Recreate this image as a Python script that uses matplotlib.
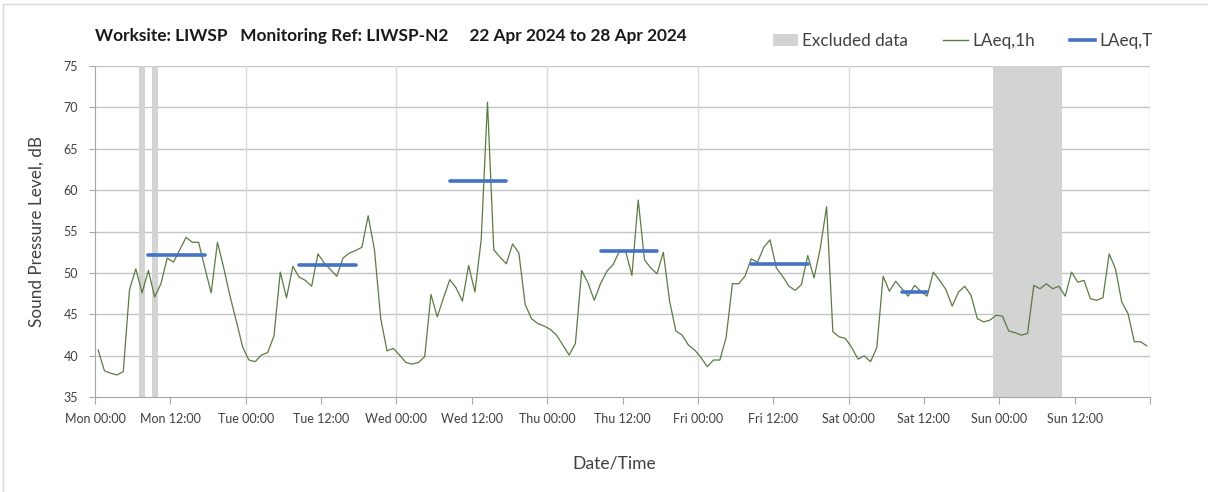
import numpy as np
import matplotlib
matplotlib.use('Agg')
import matplotlib.pyplot as plt
from matplotlib.lines import Line2D
from matplotlib.patches import Patch

plt.rcParams['font.family'] = ['Lato', 'DejaVu Sans']

# hourly LAeq,1h values, one row per day (Mon..Sun), plotted at hh:30
laeq_1h = [
    40.7, 38.2, 37.9, 37.7, 38.1, 48.0, 50.5, 47.6, 50.3, 47.1, 48.7, 51.8,
    51.3, 52.8, 54.3, 53.7, 53.7, 50.6, 47.6, 53.7, 50.6, 47.2, 44.2, 41.1,
    39.5, 39.3, 40.1, 40.4, 42.4, 50.1, 47.0, 50.8, 49.5, 49.1, 48.4, 52.3,
    51.2, 50.4, 49.6, 51.8, 52.4, 52.7, 53.1, 56.9, 52.8, 44.5, 40.6, 40.9,
    40.1, 39.2, 39.0, 39.2, 39.9, 47.4, 44.7, 47.0, 49.2, 48.2, 46.6, 50.9,
    47.7, 54.0, 70.6, 52.8, 51.9, 51.1, 53.5, 52.4, 46.2, 44.5, 43.9, 43.6,
    43.2, 42.5, 41.3, 40.1, 41.5, 50.3, 48.8, 46.7, 48.7, 50.2, 51.0, 52.6,
    52.6, 49.7, 58.8, 51.6, 50.6, 49.9, 52.5, 46.6, 43.0, 42.5, 41.3, 40.7,
    39.8, 38.7, 39.5, 39.5, 42.2, 48.7, 48.7, 49.6, 51.7, 51.3, 53.1, 54.0,
    50.6, 49.6, 48.4, 47.9, 48.6, 52.1, 49.4, 53.0, 58.0, 42.9, 42.3, 42.1,
    41.0, 39.6, 40.0, 39.3, 41.0, 49.6, 47.8, 49.0, 48.1, 47.2, 48.5, 47.8,
    47.2, 50.1, 49.1, 48.0, 46.0, 47.7, 48.4, 47.3, 44.5, 44.1, 44.3, 44.9,
    44.8, 43.0, 42.8, 42.5, 42.7, 48.5, 48.1, 48.7, 48.1, 48.4, 47.2, 50.1,
    48.9, 49.1, 46.9, 46.7, 47.0, 52.3, 50.5, 46.5, 45.1, 41.7, 41.7, 41.2,
]

# LAeq,T over the daytime working periods (hours from Mon 00:00)
period_start = [8, 32, 56, 80, 104, 128]
period_end = [18, 42, 66, 90, 114, 133]
laeq_t = [52.2, 51.0, 61.1, 52.7, 51.1, 47.7]

# excluded data spans (hours from Mon 00:00)
excl_start = [7, 9, 143]
excl_end = [8, 10, 154]

days = ['Mon', 'Tue', 'Wed', 'Thu', 'Fri', 'Sat', 'Sun']

green = '#5b7b45'
blue = '#4472c4'
grey_band = '#d3d3d3'


def draw_chart():
    fig = plt.figure(figsize=(12.08, 4.92), dpi=100)
    ax = fig.add_axes([95 / 1208, 1 - 397.3 / 492, 1055 / 1208, 331.6 / 492])

    for s, e in zip(excl_start, excl_end):
        ax.axvspan(s, e, color=grey_band, lw=0, zorder=1)

    hours = np.arange(len(laeq_1h)) + 0.5
    ax.plot(hours, laeq_1h, color=green, lw=0.9, zorder=3)

    for s, e, v in zip(period_start, period_end, laeq_t):
        ax.plot([s + 0.5, e - 0.5], [v, v], color=blue, lw=2.6,
                solid_capstyle='round', zorder=4)

    ax.set_xlim(0, 168)
    ax.set_ylim(35, 75)

    ticks = np.arange(0, 169, 12)
    labels = ['%s %s' % (days[int(t // 24)], '00:00' if t % 24 == 0 else '12:00')
              for t in ticks[:-1]] + ['']
    ax.set_xticks(ticks)
    ax.set_xticklabels(labels, fontsize=9, color='#404040')
    ax.set_yticks(np.arange(35, 76, 5))
    ax.set_yticklabels([str(v) for v in range(35, 76, 5)], fontsize=9, color='#404040')

    for v in range(40, 76, 5):
        ax.axhline(v, color='#c4c4c4', lw=1.0, zorder=0)
    for d in range(24, 169, 24):
        ax.axvline(d, color='#dadada', lw=1.0, zorder=0)

    for side in ['top', 'right']:
        ax.spines[side].set_visible(False)
    for side in ['left', 'bottom']:
        ax.spines[side].set_color('#a6a6a6')
    ax.tick_params(axis='x', direction='out', length=5, color='#a6a6a6', pad=6)
    ax.tick_params(axis='y', direction='out', length=4, color='#a6a6a6', pad=8)

    ax.set_ylabel('Sound Pressure Level, dB', fontsize=12.3, color='#404040')
    ax.yaxis.set_label_coords(-50 / 1055, 0.5)
    ax.set_xlabel('Date/Time', fontsize=12.6, color='#404040')
    ax.xaxis.set_label_coords(0.492, -58 / 331.6)

    fig.text(95 / 1208, 1 - 36 / 492,
             'Worksite: LIWSP   Monitoring Ref: LIWSP-N2     22 Apr 2024 to 28 Apr 2024',
             fontsize=12.4, fontweight='bold', ha='left', va='center', color='#1a1a1a')

    handles = [Patch(facecolor=grey_band, edgecolor='none'),
               Line2D([0], [0], color=green, lw=1.0),
               Line2D([0], [0], color=blue, lw=2.6)]
    fig.legend(handles, ['Excluded data', 'LAeq,1h', 'LAeq,T'],
               loc='center right', bbox_to_anchor=(1168 / 1208, 1 - 41 / 492),
               ncol=3, frameon=False, fontsize=12.3, handlelength=1.46,
               handletextpad=0.25, columnspacing=2.05, labelcolor='#404040')

    # light frame around the chart area
    fig.add_artist(Line2D([3 / 1208, 3 / 1208], [0, 1 - 4 / 492],
                          transform=fig.transFigure, color='#d9d9d9', lw=1.0))
    fig.add_artist(Line2D([3 / 1208, 1], [1 - 4 / 492, 1 - 4 / 492],
                          transform=fig.transFigure, color='#d9d9d9', lw=1.0))

    fig.savefig('out.png', dpi=100)


if __name__ == '__main__':
    draw_chart()
